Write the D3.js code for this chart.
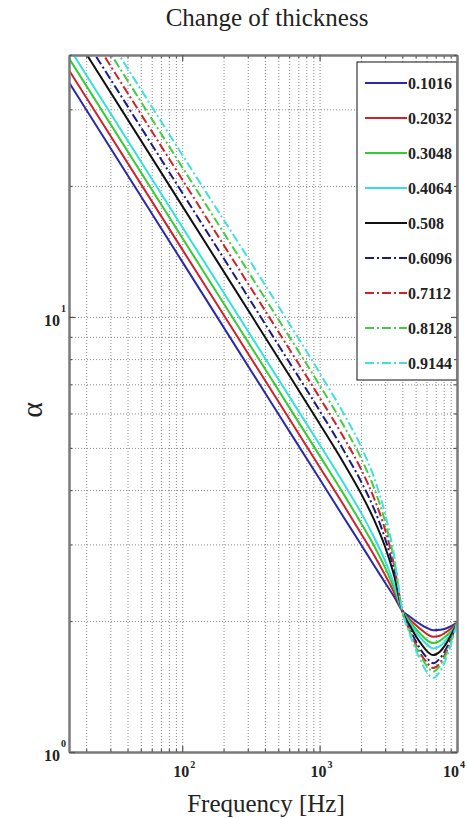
<!DOCTYPE html>
<html><head><meta charset="utf-8">
<script src="https://cdn.jsdelivr.net/npm/d3@7"></script>
<style>body{margin:0;background:#fff}</style>
</head><body>
<svg id="chart" width="467" height="819"></svg>
<script>
// ---------------- data ----------------
const frequencies = [15, 100, 500, 1000, 1500, 2000, 2500, 3000, 3500, 4000, 4500, 5000, 5500, 6000, 6700, 7500, 8200, 9000, 10000];
const thicknesses = ["0.1016", "0.2032", "0.3048", "0.4064", "0.508", "0.6096", "0.7112", "0.8128", "0.9144"];
const alpha_0_1016 = [34.6, 13.4, 5.99, 4.24, 3.46, 3.00, 2.68, 2.45, 2.27, 2.11, 2.05, 2.00, 1.96, 1.93, 1.905, 1.91, 1.92, 1.945, 1.98];
const alpha_0_2032 = [36.9, 14.3, 6.40, 4.52, 3.69, 3.18, 2.83, 2.55, 2.32, 2.11, 2.02, 1.96, 1.91, 1.87, 1.84, 1.85, 1.88, 1.92, 1.98];
const alpha_0_3048 = [39.3, 15.2, 6.80, 4.80, 3.91, 3.36, 2.97, 2.65, 2.37, 2.11, 2.00, 1.92, 1.86, 1.81, 1.78, 1.80, 1.84, 1.89, 1.98];
const alpha_0_4064 = [41.6, 16.1, 7.20, 5.09, 4.14, 3.55, 3.11, 2.75, 2.42, 2.11, 1.98, 1.89, 1.82, 1.77, 1.73, 1.75, 1.80, 1.87, 1.98];
const alpha_0_508  = [46.5, 18.0, 8.05, 5.68, 4.61, 3.93, 3.41, 2.96, 2.53, 2.11, 1.96, 1.85, 1.77, 1.71, 1.67, 1.70, 1.76, 1.85, 1.98];
const alpha_0_6096 = [49.8, 19.3, 8.63, 6.09, 4.93, 4.19, 3.61, 3.09, 2.60, 2.11, 1.93, 1.80, 1.71, 1.65, 1.60, 1.64, 1.71, 1.82, 1.98];
const alpha_0_7112 = [53.5, 20.7, 9.26, 6.53, 5.28, 4.47, 3.82, 3.24, 2.67, 2.11, 1.91, 1.77, 1.67, 1.61, 1.56, 1.60, 1.68, 1.80, 1.98];
const alpha_0_8128 = [57.1, 22.1, 9.88, 6.97, 5.62, 4.74, 4.03, 3.38, 2.74, 2.11, 1.90, 1.75, 1.65, 1.58, 1.53, 1.58, 1.66, 1.79, 1.98];
const alpha_0_9144 = [60.9, 23.6, 10.6, 7.44, 5.99, 5.04, 4.26, 3.52, 2.81, 2.11, 1.88, 1.72, 1.61, 1.53, 1.48, 1.53, 1.62, 1.76, 1.98];
const seriesValues = [alpha_0_1016, alpha_0_2032, alpha_0_3048, alpha_0_4064, alpha_0_508, alpha_0_6096, alpha_0_7112, alpha_0_8128, alpha_0_9144];
const xMajorTicks = [100, 1000, 10000];
const xMajorExponents = ["2", "3", "4"];
const yMajorTicks = [1, 10];
const yMajorExponents = ["0", "1"];
const titleText = "Change of thickness";
const xLabelText = "Frequency [Hz]";
const yLabelText = "\u03B1";

// ---------------- styles ----------------
const colors = ["#2a2aa8", "#cc2228", "#33cc33", "#33e0e0", "#111111", "#1c1c80", "#cc2228", "#44cc44", "#44dede"];
const dashes = [null, null, null, null, null, "9,3,2,3", "9,3,2,3", "9,3,2,3", "9,3,2,3"];

const W = 467, H = 819;
const M = {left: 69, right: 457, top: 55, bottom: 752};
const svg = d3.select("#chart");
const serif = "'Liberation Serif', 'Times New Roman', Times, serif";

const x = d3.scaleLog().domain([15, 10000]).range([M.left, M.right]);
const y = d3.scaleLog().domain([1, 40]).range([M.bottom, M.top]);

const plotW = M.right - M.left, plotH = M.bottom - M.top;
const xTicksAll = x.ticks();
const yTicksAll = y.ticks();

// grid
const gridStyle = g => {
  g.select(".domain").remove();
  g.selectAll("text").remove();
  g.selectAll("line").attr("stroke", "#8a8a8a").attr("stroke-width", 1).attr("stroke-dasharray", "1,2");
};
svg.append("g").attr("transform", `translate(0,${M.bottom})`)
  .call(d3.axisBottom(x).tickValues(xTicksAll.filter(v => v > 15 && v < 10000)).tickSize(-plotH).tickFormat(""))
  .call(gridStyle);
svg.append("g").attr("transform", `translate(${M.left},0)`)
  .call(d3.axisLeft(y).tickValues(yTicksAll.filter(v => v > 1 && v < 40)).tickSize(-plotW).tickFormat(""))
  .call(gridStyle);

// curves
svg.append("defs").append("clipPath").attr("id", "plotclip")
  .append("rect").attr("x", M.left).attr("y", M.top).attr("width", plotW).attr("height", plotH);

const line = d3.line().x(d => x(d[0])).y(d => y(d[1])).curve(d3.curveMonotoneX);
const curves = svg.append("g").attr("clip-path", "url(#plotclip)");
seriesValues.forEach((vals, i) => {
  const pts = frequencies.map((f, k) => [f, vals[k]]);
  curves.append("path").attr("d", line(pts)).attr("fill", "none")
    .attr("stroke", colors[i]).attr("stroke-width", 2)
    .attr("stroke-dasharray", dashes[i]);
});

// legend
const lg = svg.append("g");
const lgX = 357, lgY = 62, lgW = 100, rowH = 35;
lg.append("rect").attr("x", lgX).attr("y", lgY).attr("width", lgW)
  .attr("height", rowH * thicknesses.length + 3)
  .attr("fill", "#fff").attr("stroke", "#111").attr("stroke-width", 1);
thicknesses.forEach((t, i) => {
  const cy = lgY + 21 + i * rowH;
  lg.append("line").attr("x1", lgX + 8).attr("x2", lgX + 50).attr("y1", cy).attr("y2", cy)
    .attr("stroke", colors[i]).attr("stroke-width", 2).attr("stroke-dasharray", dashes[i]);
  lg.append("text").attr("x", lgX + 51).attr("y", cy + 6).text(t)
    .attr("font-family", serif).attr("font-weight", "bold").attr("font-size", 16).attr("fill", "#222");
});

// frame and ticks on all sides
const tickStyle = g => {
  g.select(".domain").attr("stroke", "#7a7a7a").attr("stroke-width", 2);
  g.selectAll("line").attr("stroke", "#555").attr("stroke-width", 1.2);
  g.selectAll("text").remove();
};
const isMajor = v => Math.abs(Math.log10(v) - Math.round(Math.log10(v))) < 1e-9;
const xMinor = xTicksAll.filter(v => !isMajor(v));
const yMinor = yTicksAll.filter(v => !isMajor(v));
[[d3.axisBottom, M.bottom], [d3.axisTop, M.top]].forEach(([ax, pos]) => {
  svg.append("g").attr("transform", `translate(0,${pos})`)
    .call(ax(x).tickValues(xMinor).tickSizeInner(-3).tickSizeOuter(0).tickFormat("")).call(tickStyle);
  svg.append("g").attr("transform", `translate(0,${pos})`)
    .call(ax(x).tickValues(xMajorTicks).tickSizeInner(-6).tickSizeOuter(0).tickFormat("")).call(tickStyle);
});
[[d3.axisLeft, M.left], [d3.axisRight, M.right]].forEach(([ax, pos]) => {
  svg.append("g").attr("transform", `translate(${pos},0)`)
    .call(ax(y).tickValues(yMinor).tickSizeInner(-3).tickSizeOuter(0).tickFormat("")).call(tickStyle);
  svg.append("g").attr("transform", `translate(${pos},0)`)
    .call(ax(y).tickValues(yMajorTicks).tickSizeInner(-6).tickSizeOuter(0).tickFormat("")).call(tickStyle);
});

// tick labels 10^n
xMajorTicks.forEach((v, i) => {
  const ex = Math.min(x(v) + 7, W - 8);
  svg.append("text").attr("x", ex).attr("y", M.bottom + 25).attr("text-anchor", "end")
    .attr("font-family", serif).attr("font-weight", "bold").attr("font-size", 16).attr("fill", "#222").text("10");
  svg.append("text").attr("x", ex + 1).attr("y", M.bottom + 16)
    .attr("font-family", serif).attr("font-weight", "bold").attr("font-size", 10).attr("fill", "#222").text(xMajorExponents[i]);
});
yMajorTicks.forEach((v, i) => {
  svg.append("text").attr("x", M.left - 9).attr("y", y(v) + 9).attr("text-anchor", "end")
    .attr("font-family", serif).attr("font-weight", "bold").attr("font-size", 16).attr("fill", "#222").text("10");
  svg.append("text").attr("x", M.left - 8).attr("y", y(v) - 5)
    .attr("font-family", serif).attr("font-weight", "bold").attr("font-size", 10).attr("fill", "#222").text(yMajorExponents[i]);
});

// titles
svg.append("text").attr("x", 267).attr("y", 26).attr("text-anchor", "middle")
  .attr("font-family", serif).attr("font-size", 25).attr("fill", "#222").text(titleText);
svg.append("text").attr("x", 266).attr("y", 812).attr("text-anchor", "middle")
  .attr("font-family", serif).attr("font-size", 25).attr("fill", "#222").text(xLabelText);
svg.append("text").attr("transform", "translate(42,410) rotate(-90)").attr("text-anchor", "middle")
  .attr("font-family", serif).attr("font-size", 30).attr("fill", "#222").text(yLabelText);
</script>
</body></html>
